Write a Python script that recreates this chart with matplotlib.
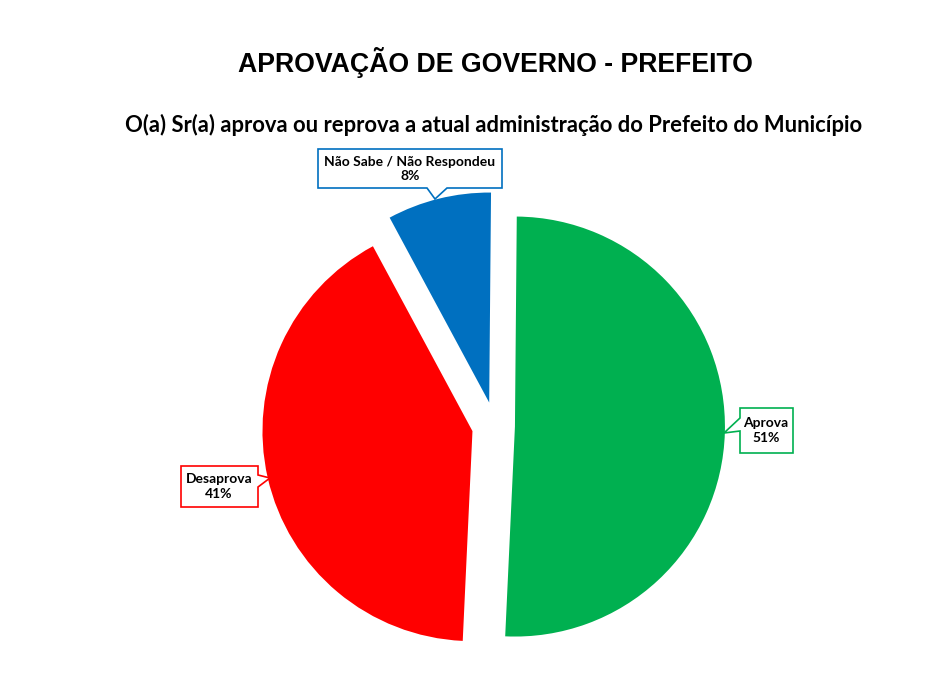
import numpy as np
import matplotlib.pyplot as plt
from matplotlib.patches import Polygon

labels = ['Aprova', 'Desaprova', 'Não Sabe / Não Respondeu']
values = [50.6, 41.4, 8.0]
colors = ['#00B050', '#FF0000', '#0070C0']
explode = [0.095, 0.11, 0.115]

fig = plt.figure(figsize=(9.43, 6.85), dpi=100)
ax = fig.add_axes([0, 0, 1, 1])

# 1 data unit = R px, pie centre at pixel (cx, cy)
R = 210.0
cx, cy = 495.0, 426.0
def px(x, y):
    return ((x - cx) / R, (cy - y) / R)

ax.pie(values, colors=colors, startangle=89.5, counterclock=False,
       explode=explode, radius=1.0)
ax.set_aspect('auto')
ax.set_xlim(-cx / R, (943 - cx) / R)
ax.set_ylim(-(685 - cy) / R, cy / R)
ax.axis('off')

fig.text(495 / 943, 1 - 62 / 685, 'APROVAÇÃO DE GOVERNO - PREFEITO',
         ha='center', va='center', fontsize=19.2, fontweight='bold',
         family='Liberation Sans')
fig.text(494 / 943, 1 - 125 / 685,
         'O(a) Sr(a) aprova ou reprova a atual administração do Prefeito do Município',
         ha='center', va='center', fontsize=15.8, fontweight='bold', family='Lato')

# callout outlines, pixel coords (box corners + pointer)
shapes = [
    [(740, 408), (793, 408), (793, 453), (740, 453), (740, 431), (724, 433), (740, 418)],
    [(181, 466), (258, 466), (258, 475), (270, 478), (258, 487), (258, 507), (181, 507)],
    [(318, 149), (502, 149), (502, 188), (447, 188), (435, 199), (427, 188), (318, 188)],
]
text_pos = [(766, 431), (219, 487), (410, 169)]
for i in range(3):
    pts = [px(x, y) for x, y in shapes[i]]
    ax.add_patch(Polygon(pts, closed=True, fc='white', ec=colors[i], lw=1.2,
                         zorder=3))
    ax.text(*px(*text_pos[i]), '%s\n%d%%' % (labels[i], round(values[i])),
            ha='center', va='center', fontsize=10, fontweight='bold',
            family='Lato', linespacing=1.3, zorder=4)

fig.savefig('out.png', dpi=100)
